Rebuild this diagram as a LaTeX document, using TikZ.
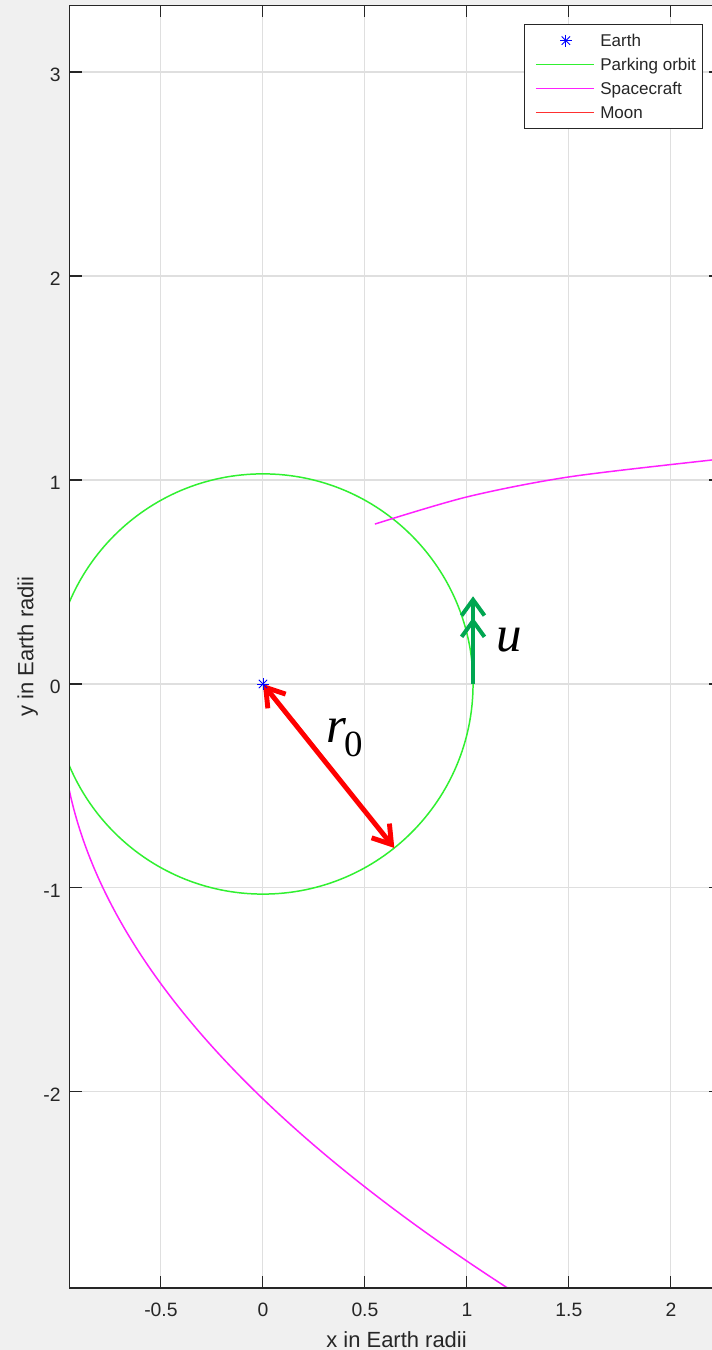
\documentclass[tikz,border=0pt]{standalone}
\usepackage{fontspec}
\setmainfont{Liberation Sans}
\newfontfamily\symbolfont{Liberation Serif}
\usepackage{xcolor}
\definecolor{axisgray}{HTML}{262626}
\definecolor{gridgray}{HTML}{DFDFDF}
\definecolor{figbg}{HTML}{F0F0F0}
\definecolor{orbitgreen}{HTML}{30F030}
\definecolor{craftpink}{HTML}{FF20FF}
\definecolor{moonred}{HTML}{FF3030}
\definecolor{velgreen}{HTML}{00A651}
\usepackage{tikz}
\usetikzlibrary{arrows.meta, calc}

\begin{document}
\begin{tikzpicture}[x=4.08cm, y=4.08cm, >=Stealth,
  ticklab/.style={font=\fontsize{11}{11}\selectfont, text=axisgray, inner sep=0pt},
  legtext/.style={font=\fontsize{9.7}{9.7}\selectfont, text=axisgray, inner sep=0pt, anchor=base west},
  mathlab/.style={font=\symbolfont\fontsize{29}{29}\selectfont\itshape, inner sep=0pt, anchor=base west}]

  % Figure and axes background
  \useasboundingbox (-1.289,-3.265) rectangle (2.201,3.353);
  \fill[figbg] (-1.289,-3.265) rectangle (2.201,3.353);
  \coordinate (axsw) at (-0.946,-2.961);
  \coordinate (axne) at (2.245,3.328);
  \fill[white] (axsw) rectangle (axne);

  % Grid
  \foreach \x in {-0.5,0,0.5,1,1.5,2}
    \draw[gridgray, line width=0.6pt] (\x,-2.961) -- (\x,3.328);
  \foreach \y in {-2,-1,0,1,2,3}
    \draw[gridgray, line width=0.6pt] (-0.946,\y) -- (2.245,\y);

  % Curves
  \coordinate (earth) at (0,0);
  \begin{scope}
    \clip (axsw) rectangle (axne);
    \draw[orbitgreen, line width=0.85pt] (earth) circle[radius=1.03];
    \draw[craftpink, line width=0.85pt] plot[smooth] coordinates
      {(0.549,0.784) (1.0,0.917) (1.5,1.015) (2.2,1.098) (2.3,1.108)};
    \draw[craftpink, line width=0.85pt] plot[domain=0.45:3.1, samples=60, smooth]
      ({-0.987-0.07*\x+0.273*\x*\x}, {-\x});
  \end{scope}

  % Axes box and ticks
  \draw[axisgray, line width=0.6pt] (axsw) rectangle (axne);
  \foreach \x in {-0.5,0,0.5,1,1.5,2} {
    \draw[axisgray, line width=0.6pt] (\x,-2.961) -- ++(0,0.059);
    \draw[axisgray, line width=0.6pt] (\x,3.328) -- ++(0,-0.059);
  }
  \foreach \y in {-2,-1,0,1,2,3} {
    \draw[axisgray, line width=0.6pt] (-0.946,\y) -- ++(0.059,0);
    \draw[axisgray, line width=0.6pt] (2.245,\y) -- ++(-0.059,0);
  }

  % Tick labels
  \foreach \x [count=\k] in {-0.5,0,0.5,1,1.5,2}
    \node[ticklab, anchor=base] (xt\k) at (\x,-3.103) {\x};
  \foreach \y [count=\k] in {-2,-1,0,1,2,3}
    \node[ticklab, anchor=base east] (yt\k) at (-0.990,\y-0.046) {\y};
  \node[ticklab, font=\fontsize{12.5}{12.5}\selectfont, anchor=base] (xlab) at (0.655,-3.252) {x in Earth radii};
  \node[ticklab, font=\fontsize{12.5}{12.5}\selectfont, anchor=base, rotate=90] (ylab) at (-1.125,0.184) {y in Earth radii};

  % r0 and u
  \coordinate (rtip) at (-51.3:1.03);
  \coordinate (ubase) at (1.03,0);
  \coordinate (utip) at (1.03,0.43);
  \draw[red, line width=2.8pt, {Straight Barb[length=10pt,width=13pt]}-{Straight Barb[length=10pt,width=13pt]}] (earth) -- (rtip);
  \draw[velgreen, line width=2.3pt, -{Straight Barb[length=9pt,width=13pt] Straight Barb[length=9pt,width=13pt]}] (ubase) -- (utip);
  \node[mathlab] (rlab) at (0.309,-0.289) {r\kern-0.04em\raisebox{-0.27em}{\upshape\fontsize{21}{21}\selectfont 0}};
  \node[mathlab] (ulab) at (1.142,0.157) {u};

  % Legend
  \draw[axisgray, fill=white, line width=0.6pt] (1.284,2.725) rectangle (2.157,3.235);
  \coordinate (legstar) at (1.485,3.154);
  \draw[orbitgreen, line width=0.85pt] (1.338,3.038) -- (1.623,3.038);
  \draw[craftpink, line width=0.85pt] (1.338,2.920) -- (1.623,2.920);
  \draw[moonred, line width=0.85pt] (1.338,2.801) -- (1.623,2.801);
  \node[legtext] (legearth) at (1.652,3.125) {Earth};
  \node[legtext] (legorbit) at (1.652,3.009) {Parking orbit};
  \node[legtext] (legcraft) at (1.652,2.891) {Spacecraft};
  \node[legtext] (legmoon) at (1.652,2.772) {Moon};

  % Earth markers
  \foreach \c in {earth, legstar}
    \foreach \a in {0,45,90,135}
      \draw[blue, line width=0.5pt] ($(\c)+(\a:0.029)$) -- ($(\c)+(\a+180:0.029)$);

\end{tikzpicture}
\end{document}
